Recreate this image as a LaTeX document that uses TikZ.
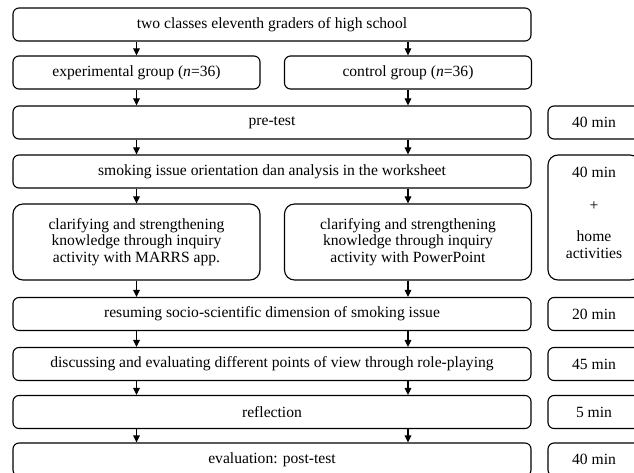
\documentclass[tikz,border=0pt]{standalone}
\usepackage{fontspec}
\setmainfont{Liberation Serif}
\usetikzlibrary{arrows.meta}

\begin{document}
\begin{tikzpicture}[x=1pt, y=-1pt,
    box/.style={draw, line width=1.1pt, rounded corners=6pt, inner sep=2pt, align=center, font=\fontsize{15.6}{16.5}\selectfont},
    full/.style={box, minimum width=518pt, minimum height=33pt},
    half/.style={box, minimum width=247pt, minimum height=33pt},
    timebox/.style={box, minimum width=92pt, minimum height=33pt},
    flow/.style={-{Triangle[length=7pt,width=6.5pt]}, line width=1.1pt}]
    \useasboundingbox (0,0) rectangle (634,473);

    % main steps
    \node[full] (pop) at (272,24.5) {two classes eleventh graders of high school};
    \node[half] (exp) at (136.5,72.5) {experimental group (\textit{n}=36)};
    \node[half] (ctl) at (408,72.5) {control group (\textit{n}=36)};
    \node[full] (pre) at (272,122.5) {pre-test};
    \node[full] (ori) at (272,171.5) {smoking issue orientation dan analysis in the worksheet};
    \node[half, minimum height=76pt, rounded corners=10pt] (expk) at (136.5,242)
        {clarifying and strengthening\\knowledge through inquiry\\activity with MARRS app.};
    \node[half, minimum height=76pt, rounded corners=10pt] (ctlk) at (408,242)
        {clarifying and strengthening\\knowledge through inquiry\\activity with PowerPoint};
    \node[full] (res) at (272,314) {resuming socio-scientific dimension of smoking issue};
    \node[full] (dis) at (272,364) {discussing and evaluating different points of view through role-playing};
    \node[full] (ref) at (272,412) {reflection};
    \node[full] (eva) at (272,459.5) {evaluation: post-test};

    % durations
    \node[timebox] (t1) at (594,122.5) {40 min};
    \node[timebox, minimum height=125pt, rounded corners=10pt] (t2) at (594,217.5) {};
    \node[align=center, inner sep=0pt, font=\fontsize{15.6}{17}\selectfont] (t2x) at (594,213)
        {40 min\\[16pt]+\\[14pt]home\\activities};
    \node[timebox] (t3) at (594,314) {20 min};
    \node[timebox] (t4) at (594,364) {45 min};
    \node[timebox] (t5) at (594,412) {5 min};
    \node[timebox] (t6) at (594,459.5) {40 min};

    % arrows
    \draw[flow] (pop.south -| exp) -- (exp.north);
    \draw[flow] (pop.south -| ctl) -- (ctl.north);
    \draw[flow] (exp.south) -- (pre.north -| exp);
    \draw[flow] (ctl.south) -- (pre.north -| ctl);
    \draw[flow] (ori.south -| expk) -- (expk.north);
    \draw[flow] (ori.south -| ctlk) -- (ctlk.north);
    \draw[flow] (expk.south) -- (res.north -| expk);
    \draw[flow] (ctlk.south) -- (res.north -| ctlk);
    \foreach \a/\b in {pre/ori, res/dis, dis/ref, ref/eva} {
        \draw[flow] (\a.south -| exp) -- (\b.north -| exp);
        \draw[flow] (\a.south -| ctl) -- (\b.north -| ctl);
    }
\end{tikzpicture}
\end{document}
